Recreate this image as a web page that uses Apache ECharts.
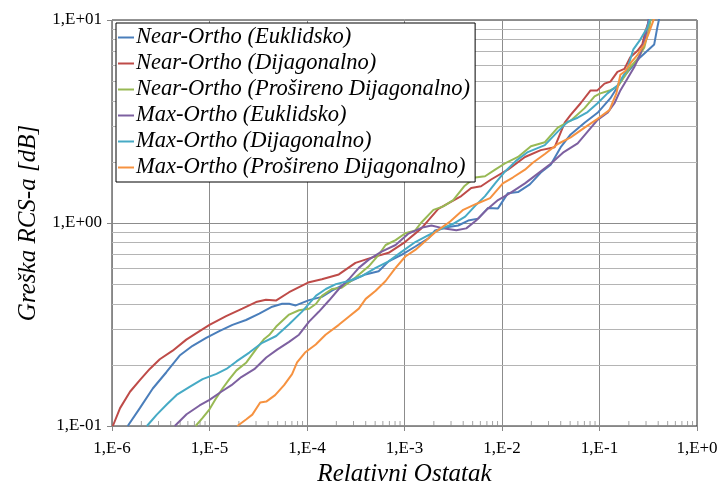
<!DOCTYPE html>
<html>
<head>
<meta charset="utf-8">
<script src="https://cdn.jsdelivr.net/npm/echarts@6/dist/echarts.min.js"></script>
<style>html,body{margin:0;padding:0;background:#fff}#c{width:721px;height:492px}</style>
</head>
<body>
<div id="c"></div>
<script>
// ---- data ----
const seriesNames = [
  'Near-Ortho (Euklidsko)',
  'Near-Ortho (Dijagonalno)',
  'Near-Ortho (Prošireno Dijagonalno)',
  'Max-Ortho (Euklidsko)',
  'Max-Ortho (Dijagonalno)',
  'Max-Ortho (Prošireno Dijagonalno)'
];
const nearEuklidsko = [
  [1.45e-6,0.1],[1.93e-6,0.1225],[2.62e-6,0.153],[3.61e-6,0.184],[4.94e-6,0.2223],[6.71e-6,0.2483],
  [9.25e-6,0.2715],[1.26e-5,0.2935],[1.72e-5,0.315],[2.37e-5,0.3327],[3.24e-5,0.358],[4.4e-5,0.387],
  [5.56e-5,0.4],[6.55e-5,0.4],[7.67e-5,0.3926],[1.05e-4,0.417],[1.42e-4,0.4325],[1.8e-4,0.464],
  [2.68e-4,0.511],[3.97e-4,0.558],[5.43e-4,0.579],[6.87e-4,0.647],[9.32e-4,0.697],[1.28e-3,0.764],
  [1.76e-3,0.841],[2.06e-3,0.92],[2.81e-3,0.955],[3.56e-3,0.972],[4.5e-3,1.028],[5.69e-3,1.051],
  [7.2e-3,1.187],[9.1e-3,1.18],[1.15e-2,1.403],[1.46e-2,1.42],[1.93e-2,1.55],[2.5e-2,1.772],
  [3.16e-2,1.936],[4.0e-2,2.363],[5.06e-2,2.73],[7.03e-2,3.12],[9.55e-2,3.49],[0.1295,4.12],
  [0.18,5.31],[0.2275,6.07],[0.262,6.56],[0.364,7.58],[0.391,9.15],[0.41,10.2]
];
const nearDijagonalno = [
  [1.02e-6,0.1],[1.21e-6,0.1225],[1.53e-6,0.1475],[1.93e-6,0.1684],[2.44e-6,0.191],[3.09e-6,0.2133],
  [4.19e-6,0.235],[5.78e-6,0.2664],[7.91e-6,0.2935],[1.0e-5,0.315],[1.48e-5,0.3475],[2.17e-5,0.3785],
  [3.0e-5,0.408],[3.79e-5,0.4185],[4.8e-5,0.415],[6.55e-5,0.456],[1.05e-4,0.511],[1.42e-4,0.528],
  [2.12e-4,0.558],[3.14e-4,0.636],[4.6e-4,0.675],[6.87e-4,0.713],[1.02e-3,0.808],[1.49e-3,0.941],
  [2.22e-3,1.175],[3.82e-3,1.357],[4.83e-3,1.488],[6.1e-3,1.517],[7.73e-3,1.638],[1.15e-2,1.831],
  [1.72e-2,2.115],[2.5e-2,2.286],[3.47e-2,2.363],[4.4e-2,3.12],[5.06e-2,3.41],[6.4e-2,3.89],
  [8.1e-2,4.5],[9.5e-2,4.5],[0.1125,4.86],[0.1295,4.97],[0.1527,5.55],[0.18,5.74],[0.207,6.56],
  [0.244,7.03],[0.275,7.58],[0.295,8.78],[0.324,10.0],[0.34,10.9]
];
const nearProsireno = [
  [7.2e-6,0.1],[8.5e-6,0.1096],[1.0e-5,0.1208],[1.18e-5,0.138],[1.36e-5,0.153],[1.6e-5,0.1703],
  [1.89e-5,0.188],[2.39e-5,0.2057],[3.02e-5,0.24],[3.64e-5,0.2685],[4.09e-5,0.2806],[4.83e-5,0.309],
  [6.55e-5,0.354],[8.28e-5,0.3717],[1.05e-4,0.378],[1.24e-4,0.4],[1.42e-4,0.4375],[1.8e-4,0.473],
  [2.27e-4,0.48],[3.16e-4,0.54],[4.3e-4,0.612],[5.43e-4,0.697],[6.4e-4,0.779],[8.1e-4,0.824],
  [1.02e-3,0.89],[1.29e-3,0.92],[1.49e-3,1.006],[1.98e-3,1.161],[2.5e-3,1.208],[3.16e-3,1.297],
  [4.09e-3,1.517],[5.3e-3,1.675],[6.7e-3,1.70],[8.5e-3,1.831],[1.1e-2,1.98],[1.46e-2,2.115],
  [1.98e-2,2.39],[2.75e-2,2.5],[3.73e-2,2.95],[5.06e-2,3.19],[7.03e-2,3.68],[8.9e-2,4.21],
  [0.102,4.35],[0.1295,4.51],[0.1527,4.70],[0.18,5.26],[0.207,5.87],[0.244,6.41],[0.288,7.33],
  [0.324,9.15],[0.34,10.6]
];
const maxEuklidsko = [
  [4.4e-6,0.1],[5.82e-6,0.1142],[7.91e-6,0.1262],[1.0e-5,0.1345],[1.32e-5,0.1475],[1.68e-5,0.1589],
  [2.12e-5,0.1742],[2.88e-5,0.1904],[3.82e-5,0.2175],[4.94e-5,0.2377],[6.55e-5,0.2597],[8.28e-5,0.2816],
  [1.05e-4,0.3268],[1.32e-4,0.3652],[1.68e-4,0.415],[2.12e-4,0.473],[2.68e-4,0.528],[3.4e-4,0.601],
  [4.3e-4,0.66],[5.82e-4,0.723],[8.1e-4,0.779],[1.1e-3,0.887],[1.53e-3,0.951],[1.89e-3,0.971],
  [2.39e-3,0.946],[3.4e-3,0.92],[4.3e-3,0.941],[5.43e-3,1.028],[7.2e-3,1.18],[9.1e-3,1.297],
  [1.21e-2,1.403],[1.72e-2,1.567],[2.33e-2,1.751],[3.16e-2,1.957],[4.3e-2,2.236],[5.97e-2,2.47],
  [7.55e-2,2.82],[9.55e-2,3.22],[0.1207,3.49],[0.1423,3.89],[0.1637,4.5],[0.193,5.14],[0.2275,5.87],
  [0.262,6.78],[0.288,7.83],[0.309,9.15],[0.324,10.6]
];
const maxDijagonalno = [
  [2.28e-6,0.1],[2.88e-6,0.1138],[3.64e-6,0.1276],[4.6e-6,0.1422],[6.25e-6,0.1559],[8.5e-6,0.1703],
  [1.18e-5,0.1807],[1.49e-5,0.191],[1.89e-5,0.208],[2.56e-5,0.23],[3.47e-5,0.257],[4.83e-5,0.2776],
  [6.55e-5,0.317],[8.9e-5,0.366],[1.24e-4,0.439],[1.56e-4,0.473],[1.98e-4,0.5],[2.68e-4,0.518],
  [3.64e-4,0.548],[5.06e-4,0.601],[6.87e-4,0.647],[9.32e-4,0.721],[1.29e-3,0.806],[1.76e-3,0.871],
  [2.39e-3,0.937],[3.16e-3,0.991],[4.19e-3,1.075],[5.3e-3,1.214],[6.7e-3,1.357],[8.5e-3,1.567],
  [1.07e-2,1.79],[1.39e-2,2.023],[1.84e-2,2.236],[2.75e-2,2.418],[3.73e-2,2.82],[4.71e-2,3.15],
  [5.97e-2,3.3],[7.55e-2,3.52],[9.55e-2,3.89],[0.1207,4.35],[0.1527,4.75],[0.193,5.74],[0.2224,7.17],
  [0.262,8.01],[0.309,9.15],[0.331,10.2]
];
const maxProsireno = [
  [1.93e-5,0.1],[2.39e-5,0.108],[2.75e-5,0.1138],[3.31e-5,0.1305],[3.82e-5,0.1319],[4.71e-5,0.1419],
  [5.82e-5,0.1589],[7.03e-5,0.18],[7.91e-5,0.2057],[9.55e-5,0.23],[1.23e-4,0.252],[1.55e-4,0.2816],
  [2.12e-4,0.315],[2.68e-4,0.3454],[3.4e-4,0.3785],[4.0e-4,0.423],[5.06e-4,0.464],[6.4e-4,0.518],
  [8.1e-4,0.601],[1.02e-3,0.684],[1.29e-3,0.737],[1.64e-3,0.815],[2.12e-3,0.91],[2.94e-3,1.017],
  [4.0e-3,1.161],[5.43e-3,1.241],[7.55e-3,1.327],[1.02e-2,1.567],[1.29e-2,1.675],[1.72e-2,1.831],
  [2.07e-2,1.98],[2.75e-2,2.186],[3.73e-2,2.45],[5.06e-2,2.64],[7.03e-2,2.95],[9.55e-2,3.26],
  [0.1265,3.6],[0.149,4.35],[0.1637,5.37],[0.184,5.61],[0.212,6.2],[0.244,6.71],[0.288,7.58],
  [0.324,8.75],[0.364,10.2]
];
const seriesData = [nearEuklidsko, nearDijagonalno, nearProsireno, maxEuklidsko, maxDijagonalno, maxProsireno];
const seriesColors = ['#4A7EBB', '#BE4B48', '#98B954', '#7D60A0', '#46AAC5', '#F69240'];

const xTickLabels = ['1,E-6', '1,E-5', '1,E-4', '1,E-3', '1,E-2', '1,E-1', '1,E+0'];
const yTickLabels = ['1,E-01', '1,E+00', '1,E+01'];
const xDecades = [1e-6, 1e-5, 1e-4, 1e-3, 1e-2, 1e-1];
const yDecades = [0.1, 1];
const minorMultipliers = [2, 3, 4, 5, 6, 7, 8, 9];

// ---- build ----
const xMinor = [];
xDecades.forEach(d => minorMultipliers.forEach(m => xMinor.push([d * m, 0.1])));
const yMinorLines = [];
yDecades.forEach(d => minorMultipliers.forEach(m => yMinorLines.push({ yAxis: d * m })));

const FONT = 'Liberation Serif';
const chart = echarts.init(document.getElementById('c'), null, { renderer: 'canvas' });

const series = [{
  type: 'scatter',
  silent: true,
  clip: false,
  z: 1,
  symbol: 'rect',
  symbolSize: [1, 5],
  symbolOffset: [0, -2.5],
  itemStyle: { color: '#8C8C8C' },
  data: xMinor,
  markLine: {
    silent: true,
    z: 1,
    symbol: ['none', 'none'],
    label: { show: false },
    animation: false,
    lineStyle: { color: '#B4B4B4', type: 'solid', width: 1 },
    data: yMinorLines
  }
}];
seriesNames.forEach((n, i) => {
  series.push({
    name: n,
    type: 'line',
    symbol: 'none',
    z: 3,
    data: seriesData[i],
    lineStyle: { color: seriesColors[i], width: 2 },
    itemStyle: { color: seriesColors[i] }
  });
});

chart.setOption({
  animation: false,
  backgroundColor: '#fff',
  grid: { left: 112, right: 24, top: 20, bottom: 57, show: true, borderColor: '#262626', borderWidth: 1 },
  legend: {
    z: 20,
    data: seriesNames,
    orient: 'vertical',
    left: 116,
    top: 23,
    icon: 'rect',
    itemWidth: 16,
    itemHeight: 2,
    itemGap: 3,
    padding: [3, 5, 3, 2],
    backgroundColor: '#fff',
    borderColor: '#000',
    borderWidth: 1,
    textStyle: { fontFamily: FONT, fontStyle: 'italic', fontSize: 22.5, color: '#000', lineHeight: 22, padding: [0, 0, 0, -3] }
  },
  xAxis: {
    type: 'log', logBase: 10, min: 1e-6, max: 1,
    name: 'Relativni Ostatak', nameLocation: 'middle', nameGap: 36,
    nameTextStyle: { fontFamily: FONT, fontStyle: 'italic', fontSize: 25, color: '#000' },
    axisLine: { show: true, lineStyle: { color: '#868686', width: 1 } },
    axisTick: { show: true, length: 5, lineStyle: { color: '#868686' } },
    axisLabel: {
      fontFamily: FONT, fontSize: 17, color: '#000', margin: 14,
      formatter: v => xTickLabels[Math.round(Math.log10(v)) + 6]
    },
    splitLine: { show: true, lineStyle: { color: '#8C8C8C', width: 1 } }
  },
  yAxis: {
    type: 'log', logBase: 10, min: 0.1, max: 10,
    name: 'Greška RCS-a [dB]', nameLocation: 'middle', nameGap: 70,
    nameTextStyle: { fontFamily: FONT, fontStyle: 'italic', fontSize: 25, color: '#000' },
    axisLine: { show: true, lineStyle: { color: '#868686', width: 1 } },
    axisTick: { show: true, length: 5, lineStyle: { color: '#868686' } },
    axisLabel: {
      fontFamily: FONT, fontSize: 17, color: '#000', margin: 10,
      formatter: v => yTickLabels[Math.round(Math.log10(v)) + 1]
    },
    splitLine: { show: true, lineStyle: { color: '#8C8C8C', width: 1 } }
  },
  series: series
});
</script>
</body>
</html>
